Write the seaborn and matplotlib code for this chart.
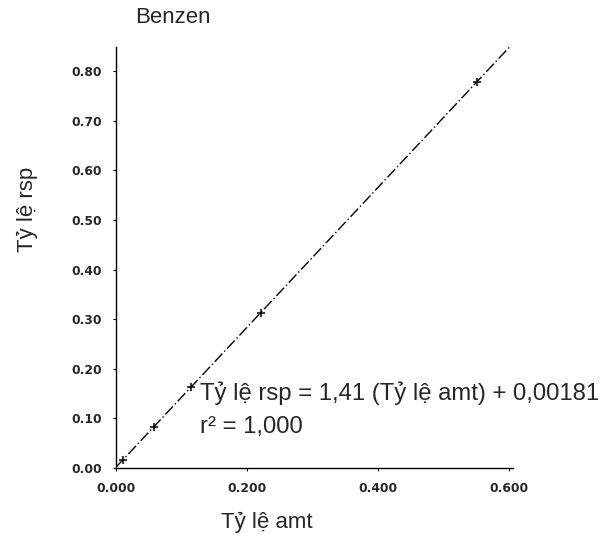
import matplotlib
matplotlib.use("Agg")
import matplotlib.pyplot as plt
import seaborn as sns
import numpy as np
import pandas as pd

# Data
amt_ratio = [0.011, 0.058, 0.114, 0.221, 0.551]
rsp_ratio = [0.017, 0.083, 0.163, 0.313, 0.779]
slope = 1.41
intercept = 0.00181
fit_x = [0.0, 0.60]
x_ticks = [0.0, 0.2, 0.4, 0.6]
x_tick_labels = ["0.000", "0.200", "0.400", "0.600"]
y_ticks = [0.0, 0.1, 0.2, 0.3, 0.4, 0.5, 0.6, 0.7, 0.8]
y_tick_labels = ["0.00", "0.10", "0.20", "0.30", "0.40", "0.50", "0.60", "0.70", "0.80"]

sns.set_style("ticks")
plt.rcParams['font.family'] = ['Liberation Sans', 'DejaVu Sans']

fig = plt.figure(figsize=(6.09, 5.38), dpi=100)
ax = fig.add_axes([0.1905, 0.130, 0.652, 0.783])

pts = pd.DataFrame({"amt": amt_ratio, "rsp": rsp_ratio})
fit = pd.DataFrame({"amt": fit_x, "rsp": [slope * v + intercept for v in fit_x]})

sns.lineplot(data=fit, x="amt", y="rsp", ax=ax, color="black", linewidth=1.0,
             linestyle=(0, (8, 2, 1, 2)))
sns.scatterplot(data=pts, x="amt", y="rsp", ax=ax, marker="+", s=40,
                color="black", linewidth=1.1)

ax.set_xlim(0, 0.606)
ax.set_ylim(0, 0.849)
ax.set_xticks(x_ticks)
ax.set_xticklabels(x_tick_labels, fontsize=8.8, fontweight="bold", family="DejaVu Sans")
ax.set_yticks(y_ticks)
ax.set_yticklabels(y_tick_labels, fontsize=8.8, fontweight="bold", family="DejaVu Sans")
ax.tick_params(axis="both", length=2, width=0.8, color="black", pad=8)
for s in ["top", "right"]:
    ax.spines[s].set_visible(False)
for s in ["left", "bottom"]:
    ax.spines[s].set_color("black")
    ax.spines[s].set_linewidth(1.0)

ax.set_xlabel("Tỷ lệ amt", fontsize=16)
ax.xaxis.set_label_coords(0.38, -0.1425)
ax.xaxis.label.set_va("baseline")
ax.set_ylabel("Tỷ lệ rsp", fontsize=16)
ax.yaxis.set_label_coords(-0.209, 0.615)
ax.yaxis.label.set_va("baseline")
ax.set_title("Benzen", fontsize=16, loc="left", x=0.048, y=1.057, pad=0)

ax.text(0.128, 0.137, "Tỷ lệ rsp = 1,41 (Tỷ lệ amt) + 0,00181", fontsize=17.2,
        va="baseline", ha="left", clip_on=False)
ax.text(0.128, 0.0706, "r² = 1,000", fontsize=17.2, va="baseline", ha="left", clip_on=False)

fig.savefig("out.png", dpi=100, facecolor="white")
